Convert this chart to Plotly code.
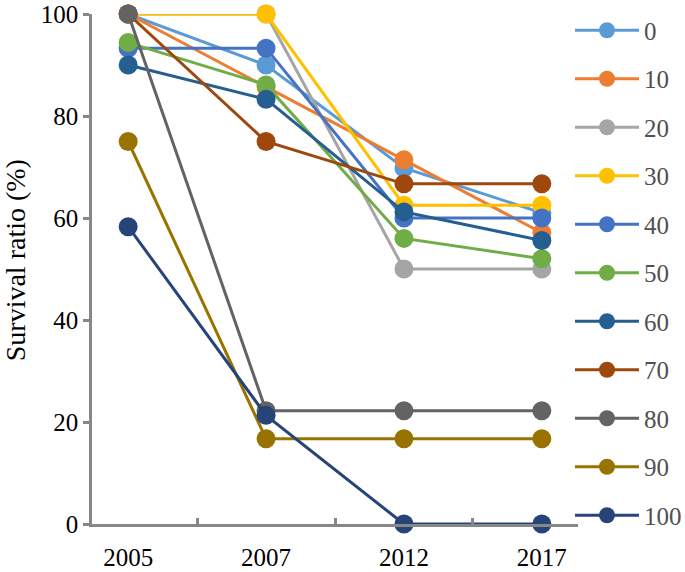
import plotly.graph_objects as go

years = ["2005", "2007", "2012", "2017"]
series_names = ["0", "10", "20", "30", "40", "50", "60", "70", "80", "90", "100"]
s0 = [100, 90.0, 69.8, 61.0]
s10 = [100, 85.7, 71.4, 57.1]
s20 = [100, 100, 50.0, 50.0]
s30 = [100, 100, 62.5, 62.5]
s40 = [93.3, 93.3, 60.0, 60.0]
s50 = [94.4, 86.1, 56.0, 52.0]
s60 = [90.0, 83.3, 61.2, 55.6]
s70 = [100, 75.0, 66.7, 66.7]
s80 = [100, 22.2, 22.2, 22.2]
s90 = [75.0, 16.7, 16.7, 16.7]
s100 = [58.3, 21.3, 0, 0]
series_values = [s0, s10, s20, s30, s40, s50, s60, s70, s80, s90, s100]
colors = ["#5B9BD5", "#ED7D31", "#A5A5A5", "#FFC000", "#4472C4", "#70AD47",
          "#255E91", "#9E480E", "#636363", "#997300", "#264478"]
y_ticks = [0, 20, 40, 60, 80, 100]
y_title = "Survival ratio (%)"

FONT = "Liberation Serif"
AXIS = "#878787"

fig = go.Figure()
for name, vals, col in zip(series_names, series_values, colors):
    fig.add_trace(go.Scatter(
        x=years, y=vals, name=name, mode="lines+markers",
        line=dict(color=col, width=3),
        marker=dict(color=col, size=19),
        cliponaxis=False, legendgroup=name,
    ))

fig.add_annotation(
    text=y_title, xref="paper", yref="paper", x=-0.158, y=0.5176,
    xanchor="center", yanchor="middle", textangle=-90, showarrow=False,
    font=dict(family=FONT, size=28, color="black"),
)

fig.update_layout(
    width=685, height=572,
    margin=dict(l=92, r=107, t=14, b=48, autoexpand=False),
    paper_bgcolor="white", plot_bgcolor="white",
    font=dict(family=FONT, size=24, color="black"),
    showlegend=True,
    legend=dict(
        xref="container", yref="container",
        x=0.8321, xanchor="left", y=0.98689, yanchor="top",
        font=dict(family=FONT, size=25, color="#505050"),
        tracegroupgap=13.0, itemwidth=64, maxheight=600,
        bgcolor="rgba(0,0,0,0)",
    ),
    xaxis=dict(
        type="category", showline=True, linecolor=AXIS, linewidth=2.5,
        ticks="inside", tickson="boundaries", ticklen=6, tickwidth=2.5,
        tickcolor=AXIS, showgrid=False, zeroline=False,
        tickfont=dict(family=FONT, size=25, color="black"),
        ticklabelstandoff=9, ticklabeloverflow="allow",
    ),
    yaxis=dict(
        range=[0, 100], tickvals=y_ticks, showline=True, linecolor=AXIS,
        linewidth=2.5, ticks="outside", ticklen=6, tickwidth=2.5, tickcolor=AXIS,
        showgrid=False, zeroline=False,
        tickfont=dict(family=FONT, size=25, color="black"),
        ticklabelstandoff=0, ticklabeloverflow="allow",
    ),
)

fig.write_html("out.html",
               config={"displayModeBar": False},
               post_script="document.body.style.margin='0';document.body.style.overflow='hidden';")
